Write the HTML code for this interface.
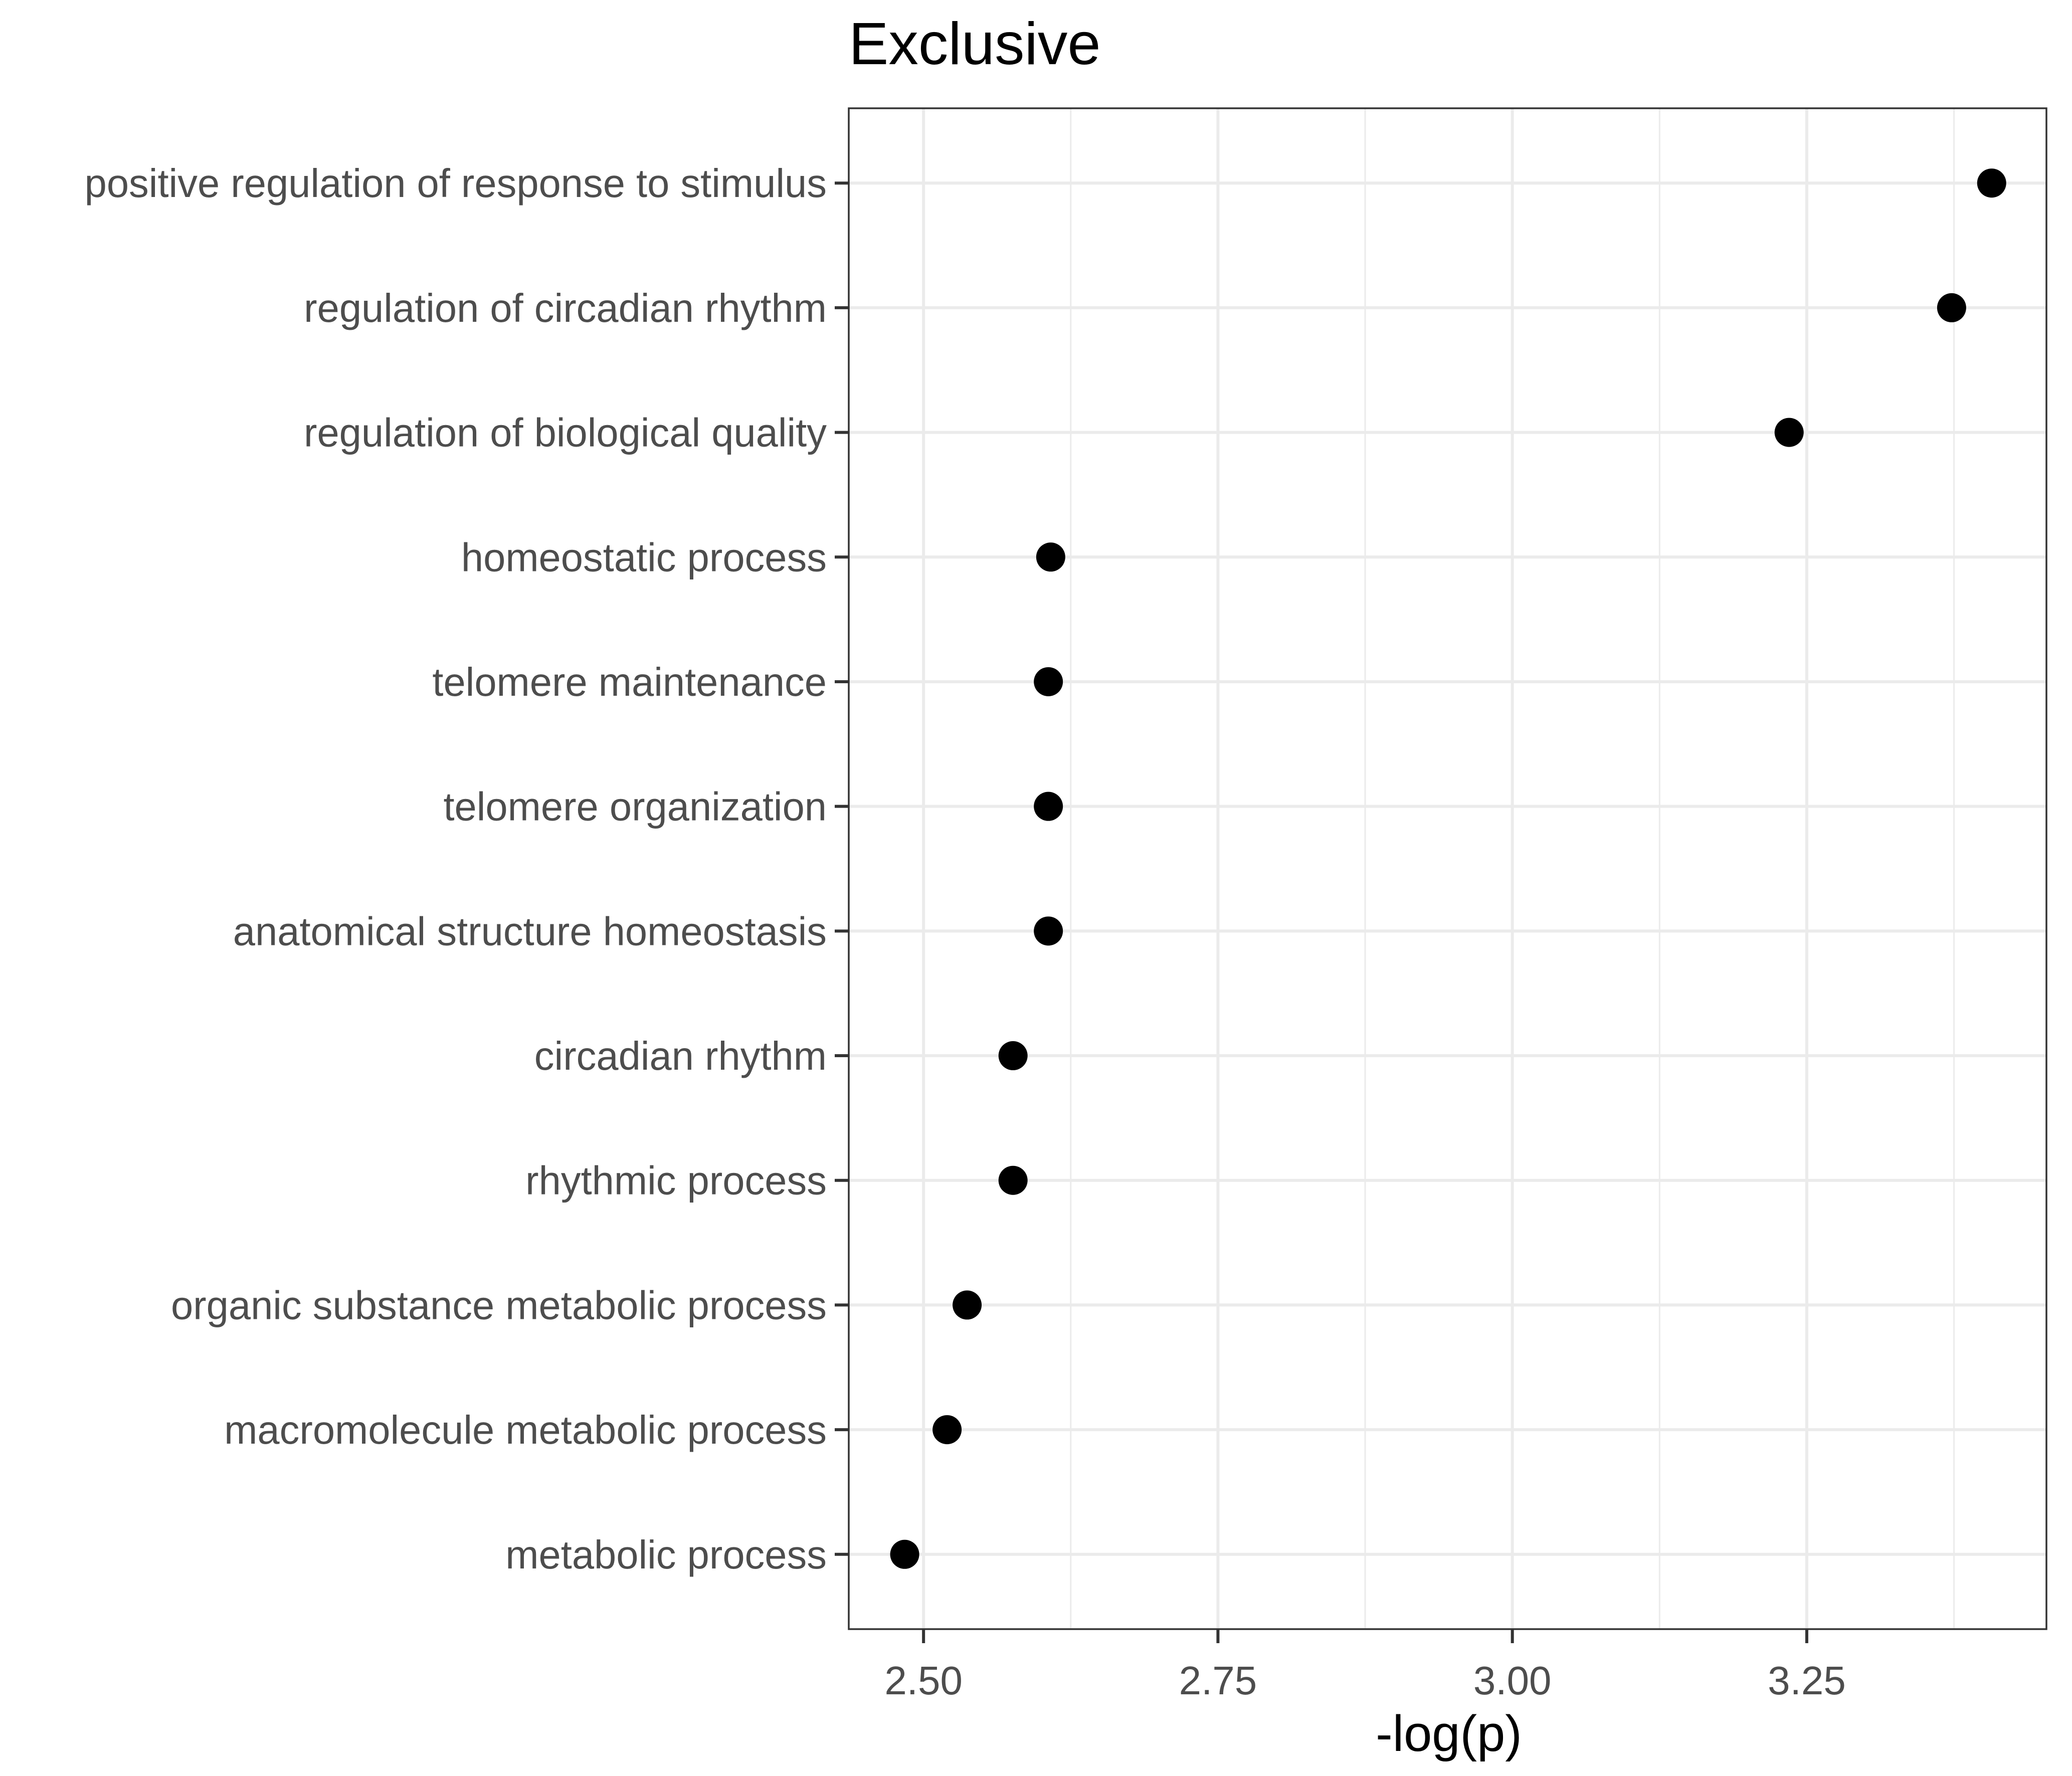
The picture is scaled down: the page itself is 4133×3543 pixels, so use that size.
<!DOCTYPE html>
<html><head><meta charset="utf-8"><style>
html,body{margin:0;padding:0;background:#fff;}
svg{display:block;font-family:"Liberation Sans",Arial,sans-serif;}
</style></head><body>
<svg id="chart" width="4133" height="3543" viewBox="0 0 4133 3543" xmlns="http://www.w3.org/2000/svg">
<rect width="4133" height="3543" fill="#fff"/>
<text x="1693" y="128" font-size="119" fill="#000">Exclusive</text>
<g id="grid"></g>
<g id="marks"></g>
<g id="axes"></g>
<text x="2890" y="3493" font-size="101" fill="#000" text-anchor="middle">-log(p)</text>
</svg>
<script>
const categories = ["positive regulation of response to stimulus","regulation of circadian rhythm","regulation of biological quality","homeostatic process","telomere maintenance","telomere organization","anatomical structure homeostasis","circadian rhythm","rhythmic process","organic substance metabolic process","macromolecule metabolic process","metabolic process"];
const values = [3.407,3.373,3.235,2.608,2.606,2.606,2.606,2.576,2.576,2.537,2.520,2.484];
const xTicks = [2.5,2.75,3.0,3.25];
const xTickLabels = ["2.50","2.75","3.00","3.25"];
const xMinor = [2.625,2.875,3.125,3.375];

const L=1693,R=4082,T=216,B=3250;
const xMin=2.4365,xMax=3.4535;
const x=v=>L+(v-xMin)/(xMax-xMin)*(R-L);
const step=(B-T)/(categories.length-1+1.2);
const y=i=>T+0.6*step+i*step;
const NS="http://www.w3.org/2000/svg";
function mk(tag,attrs,parent){const e=document.createElementNS(NS,tag);for(const k in attrs)e.setAttribute(k,attrs[k]);parent.appendChild(e);return e;}
const grid=document.getElementById('grid'),marks=document.getElementById('marks'),axes=document.getElementById('axes');
xMinor.forEach(v=>{const e=mk('line',{x1:x(v),x2:x(v),y1:T,y2:B,stroke:'#ebebeb','stroke-width':3},grid);

});
xTicks.forEach(v=>{const e=mk('line',{x1:x(v),x2:x(v),y1:T,y2:B,stroke:'#ebebeb','stroke-width':6},grid);

});
categories.forEach((c,i)=>{const e=mk('line',{x1:L,x2:R,y1:y(i),y2:y(i),stroke:'#ebebeb','stroke-width':6},grid);

});
values.forEach((v,i)=>{const e=mk('circle',{cx:x(v),cy:y(i),r:29,fill:'#000'},marks);

});
const fr=mk('rect',{x:L,y:T,width:R-L,height:B-T,fill:'none',stroke:'#333','stroke-width':3.5},axes);


categories.forEach((c,i)=>{mk('line',{x1:L-28,x2:L,y1:y(i),y2:y(i),stroke:'#333','stroke-width':6},axes);
const t=mk('text',{x:L-44,y:y(i)+28,'font-size':79.5,fill:'#4d4d4d','text-anchor':'end'},axes);t.textContent=c;

});
xTicks.forEach((v,i)=>{mk('line',{x1:x(v),x2:x(v),y1:B,y2:B+28,stroke:'#333','stroke-width':6},axes);
const t=mk('text',{x:x(v),y:B+130,'font-size':80,fill:'#4d4d4d','text-anchor':'middle'},axes);t.textContent=xTickLabels[i];

});
</script>
</body></html>
